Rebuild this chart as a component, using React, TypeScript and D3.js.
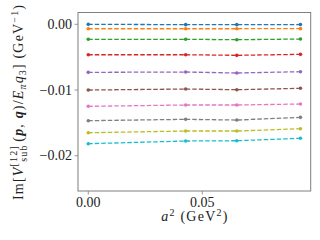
import React from "react";
import * as d3 from "d3";

const a2 = [0, 0.0427, 0.0651, 0.093];
const s0 = [0, -0.00005, -0.00005, -0.00003];
const s1 = [-0.00067, -0.00067, -0.00067, -0.00066];
const s2 = [-0.00228, -0.00228, -0.00234, -0.00224];
const s3 = [-0.00463, -0.00463, -0.00472, -0.00457];
const s4 = [-0.00731, -0.00726, -0.00741, -0.00721];
const s5 = [-0.0100, -0.00985, -0.00995, -0.00974];
const s6 = [-0.01248, -0.01228, -0.01228, -0.01213];
const s7 = [-0.01467, -0.01446, -0.01457, -0.01416];
const s8 = [-0.0165, -0.01624, -0.01624, -0.01589];
const s9 = [-0.01817, -0.01776, -0.01772, -0.01735];
const seriesList = [s0, s1, s2, s3, s4, s5, s6, s7, s8, s9];
const xTicks = [0, 0.05];
const yTicks = [0, -0.01, -0.02];

const W = 320, H = 240;
const L = 78, R = 310.7, T = 12.5, B = 191;
const FONT = "Liberation Serif, DejaVu Serif, serif";

export default function App() {
  const x = d3.scaleLinear().domain([-0.0045, 0.0975]).range([L, R]);
  const y = d3.scaleLinear().domain([-0.02537, 0.0018]).range([B, T]);
  const colors = d3.schemeCategory10;
  const line = d3.line<[number, number]>().x(d => x(d[0])).y(d => y(d[1]));
  const fmt = (v: number) => (v < 0 ? "\u2212" : "") + Math.abs(v).toFixed(2);
  const axisColor = "#7f7f7f";
  const txt = "#222";
  return (
    <svg width={W} height={H} style={{ position: "absolute", left: 0, top: 0, background: "#fff" }}>
      <rect x={0} y={0} width={W} height={H} fill="#fff" />
      {seriesList.map((s, i) => {
        const pts = a2.map((v, j) => [v, s[j]] as [number, number]);
        return (
          <g key={i}>
            <path d={line(pts) || ""} fill="none" stroke={colors[i]} strokeWidth={1.3} strokeDasharray="4.5,2" />
            {pts.map((p, j) => (
              <circle key={j} cx={x(p[0])} cy={y(p[1])} r={1.8} fill={colors[i]} />
            ))}
          </g>
        );
      })}
      <rect x={L} y={T} width={R - L} height={B - T} fill="none" stroke={axisColor} strokeWidth={1} />
      {yTicks.map((t, i) => (
        <g key={i}>
          <line x1={L - 3.5} x2={L} y1={y(t)} y2={y(t)} stroke={axisColor} strokeWidth={0.8} />
          <text x={L - 6} y={y(t)} dy="0.34em" textAnchor="end" fontSize={14} fill={txt} style={{ fontFamily: FONT }}>{fmt(t)}</text>
        </g>
      ))}
      {xTicks.map((t, i) => (
        <g key={i}>
          <line x1={x(t)} x2={x(t)} y1={B} y2={B + 3.5} stroke={axisColor} strokeWidth={0.8} />
          <text x={x(t)} y={B + 16} textAnchor="middle" fontSize={14} fill={txt} style={{ fontFamily: FONT }}>{fmt(t)}</text>
        </g>
      ))}
      <text x={(L + R) / 2} y={221} textAnchor="middle" fontSize={14} fill={txt} style={{ fontFamily: FONT }} textLength={66} lengthAdjust="spacing">
        <tspan fontStyle="italic">a</tspan>
        <tspan fontSize={10} dy={-5}>2</tspan>
        <tspan dy={5}> (GeV</tspan>
        <tspan fontSize={10} dy={-5}>2</tspan>
        <tspan dy={5}>)</tspan>
      </text>
      <g transform={`translate(22.5,${(5 + 200) / 2}) rotate(-90)`}>
        <text x={0} y={0} textAnchor="middle" fontSize={14} fill={txt} style={{ fontFamily: FONT }} textLength={195} lengthAdjust="spacing">
          <tspan>Im[</tspan>
          <tspan fontStyle="italic">V</tspan>
          <tspan fontSize={10} dy={-6}>[12]</tspan>
          <tspan fontSize={10} dx={-16.7} dy={10}>sub</tspan>
          <tspan dx={2.8} dy={-4}>(</tspan>
          <tspan fontStyle="italic" fontWeight="bold">p</tspan>
          <tspan>, </tspan>
          <tspan fontStyle="italic" fontWeight="bold">q</tspan>
          <tspan>)/</tspan>
          <tspan fontStyle="italic">E</tspan>
          <tspan fontStyle="italic" fontSize={10} dy={3}>π</tspan>
          <tspan fontStyle="italic" dy={-3}>q</tspan>
          <tspan fontSize={10} dy={3}>3</tspan>
          <tspan dy={-3}>] (GeV</tspan>
          <tspan fontSize={10} dy={-5}>−1</tspan>
          <tspan dy={5}>)</tspan>
        </text>
      </g>
    </svg>
  );
}
